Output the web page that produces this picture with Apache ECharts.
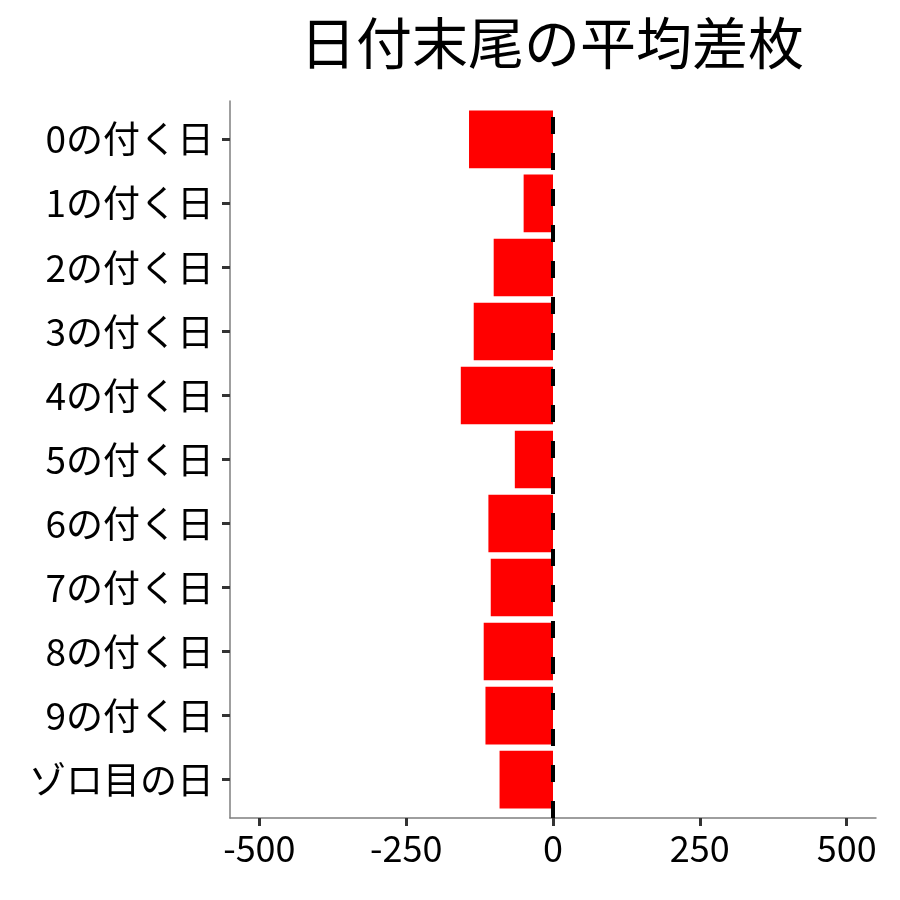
<!DOCTYPE html>
<html>
<head>
<meta charset="utf-8">
<script src="https://cdn.jsdelivr.net/npm/echarts@6/dist/echarts.min.js"></script>
<style>
    html, body { margin: 0; padding: 0; background: #fff; }
    #chart { width: 900px; height: 900px; }
</style>
</head>
<body>
<div id="chart"></div>
<script>
    var categories = ['0の付く日', '1の付く日', '2の付く日', '3の付く日', '4の付く日', '5の付く日',
        '6の付く日', '7の付く日', '8の付く日', '9の付く日', 'ゾロ目の日'];
    var diffValues = [-143, -50, -101, -135, -157, -65, -110, -106, -118, -115, -91];
    var xTicks = [-500, -250, 0, 250, 500];

    var font = '"Noto Sans CJK JP", "Noto Sans", sans-serif';
    var myChart = echarts.init(document.getElementById('chart'));

    // grid 0: panel frame (axis lines, x labels, zero line)
    // grid 1: same width, inset by 0.1 category so bars get the 0.6 padding
    var option = {
        animation: false,
        backgroundColor: '#fff',
        title: {
            text: '日付末尾の平均差枚',
            left: 547,
            textAlign: 'center',
            top: 10,
            textStyle: {fontFamily: font, fontSize: 56, fontWeight: 'normal', color: '#000'}
        },
        grid: [
            {left: 230, right: 24, top: 101, bottom: 82},
            {left: 230, right: 24, top: 107.4, bottom: 88.4}
        ],
        xAxis: [
            {
                gridIndex: 0,
                type: 'value',
                min: -550,
                max: 550,
                splitLine: {show: false},
                axisLine: {show: true, onZero: false, lineStyle: {color: '#7f7f7f', width: 1.5}},
                axisTick: {show: true, length: 8, lineStyle: {color: '#333', width: 3}, customValues: xTicks},
                axisLabel: {
                    customValues: xTicks,
                    margin: 12,
                    fontFamily: font, fontSize: 36, color: '#000'
                }
            },
            {
                gridIndex: 1,
                type: 'value',
                min: -550,
                max: 550,
                show: false
            }
        ],
        yAxis: [
            {
                gridIndex: 0,
                type: 'value',
                min: 0,
                max: 1,
                splitLine: {show: false},
                axisLabel: {show: false},
                axisTick: {show: false},
                axisLine: {show: true, onZero: false, lineStyle: {color: '#7f7f7f', width: 1.5}}
            },
            {
                gridIndex: 1,
                type: 'category',
                inverse: true,
                data: categories,
                axisLine: {show: false, onZero: false},
                axisTick: {show: true, length: 8, alignWithLabel: true, lineStyle: {color: '#333', width: 3}},
                axisLabel: {margin: 16, fontFamily: font, fontSize: 37, color: '#000'}
            }
        ],
        series: [
            {
                name: '平均差枚',
                type: 'bar',
                xAxisIndex: 1,
                yAxisIndex: 1,
                data: diffValues,
                barCategoryGap: '10%',
                itemStyle: {color: '#ff0000'}
            },
            {
                name: 'zero',
                type: 'line',
                xAxisIndex: 0,
                yAxisIndex: 0,
                data: [],
                markLine: {
                    silent: true,
                    symbol: 'none',
                    label: {show: false},
                    lineStyle: {color: '#000', width: 4, type: [17, 19]},
                    data: [{xAxis: 0}]
                }
            }
        ]
    };

    myChart.setOption(option);
</script>
</body>
</html>
